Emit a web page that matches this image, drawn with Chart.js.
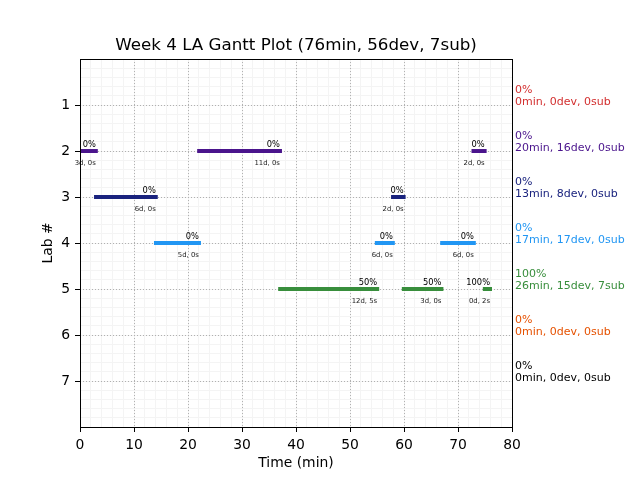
<!DOCTYPE html>
<html>
<head>
<meta charset="utf-8">
<script src="https://cdn.jsdelivr.net/npm/chart.js@4/dist/chart.umd.min.js"></script>
<style>
  html, body { margin: 0; padding: 0; background: #fff; }
</style>
</head>
<body>
<canvas id="gantt" width="640" height="480"></canvas>
<script>
(() => {
  'use strict';

  const TITLE = 'Week 4 LA Gantt Plot (76min, 56dev, 7sub)';
  const FONT = "'DejaVu Sans', sans-serif";

  // one entry per lab (1..7)
  const labNumbers = [1, 2, 3, 4, 5, 6, 7];
  const labColors = ['#d32f2f', '#4a148c', '#1a237e', '#2196f3', '#388e3c', '#e65100', '#000000'];
  const summaryPct = ['0%', '0%', '0%', '0%', '100%', '0%', '0%'];
  const summaryText = [
    '0min, 0dev, 0sub',
    '20min, 16dev, 0sub',
    '13min, 8dev, 0sub',
    '17min, 17dev, 0sub',
    '26min, 15dev, 7sub',
    '0min, 0dev, 0sub',
    '0min, 0dev, 0sub'
  ];

  // one entry per work segment
  const segLab   = [2, 2, 2, 3, 3, 4, 4, 4, 5, 5, 5];
  const segStart = [0, 21.7, 72.5, 2.6, 57.6, 13.7, 54.6, 66.7, 36.7, 59.6, 74.6];
  const segEnd   = [3.3, 37.4, 75.3, 14.4, 60.3, 22.4, 58.3, 73.3, 55.4, 67.3, 76.3];
  const segPct   = ['0%', '0%', '0%', '0%', '0%', '0%', '0%', '0%', '50%', '50%', '100%'];
  const segDur   = ['3d, 0s', '11d, 0s', '2d, 0s', '6d, 0s', '2d, 0s', '5d, 0s',
                    '6d, 0s', '6d, 0s', '12d, 5s', '3d, 0s', '0d, 2s'];

  const datasets = segLab.map((lab, i) => ({
    data: [{ x: segStart[i], y: lab }, { x: segEnd[i], y: lab }],
    borderColor: labColors[lab - 1],
    backgroundColor: labColors[lab - 1],
    borderWidth: 4,
    borderCapStyle: 'butt',
    pointRadius: 0,
    showLine: true,
    fill: false
  }));

  // labels on the bars, summary on the right, black frame
  const annotate = {
    id: 'annotate',
    afterDraw(chart) {
      const { ctx, chartArea } = chart;
      const x = chart.scales.x, y = chart.scales.y;
      ctx.save();
      ctx.textBaseline = 'alphabetic';
      ctx.textAlign = 'right';
      segLab.forEach((lab, i) => {
        const px = x.getPixelForValue(segEnd[i]) - 2;
        const py = y.getPixelForValue(lab);
        ctx.fillStyle = '#000';
        ctx.font = `8.3px ${FONT}`;
        ctx.fillText(segPct[i], px, py - 4);
        ctx.fillStyle = '#222';
        ctx.font = `6.9px ${FONT}`;
        ctx.fillText(segDur[i], px, py + 14);
      });

      ctx.textAlign = 'left';
      ctx.font = `11px ${FONT}`;
      labNumbers.forEach((lab, i) => {
        const py = y.getPixelForValue(lab);
        ctx.fillStyle = labColors[i];
        ctx.fillText(summaryPct[i], chartArea.right + 3, py - 12);
        ctx.fillText(summaryText[i], chartArea.right + 3, py - 0.5);
      });

      const l = Math.round(chartArea.left), t = Math.round(chartArea.top);
      const r = Math.round(chartArea.right), b = Math.round(chartArea.bottom);
      ctx.strokeStyle = '#000';
      ctx.lineWidth = 1;
      ctx.strokeRect(l + 0.5, t + 0.5, r - l, b - t);
      ctx.restore();
    }
  };

  const tickFont = { family: FONT, size: 13.9 };

  new Chart(document.getElementById('gantt'), {
    type: 'scatter',
    data: { datasets },
    plugins: [annotate],
    options: {
      responsive: false,
      animation: false,
      layout: { padding: { left: 0, right: 128, top: 0, bottom: 0 } },
      plugins: {
        legend: { display: false },
        tooltip: { enabled: false },
        title: {
          display: true,
          text: TITLE,
          fullSize: false,
          color: '#000',
          font: { family: FONT, size: 16.7, weight: 'normal' },
          padding: { top: 36, bottom: 3 }
        }
      },
      scales: {
        x: {
          type: 'linear',
          position: 'bottom',
          min: 0,
          max: 80,
          ticks: { stepSize: 10, color: '#000', font: tickFont, padding: 5, maxRotation: 0 },
          grid: { color: '#b0b0b0', lineWidth: 1, tickColor: '#000', tickLength: 5, tickBorderDash: [] },
          border: { display: false, dash: [1, 2] },
          title: { display: true, text: 'Time (min)', color: '#000', font: tickFont, padding: { top: 0, bottom: 8.6 } },
          afterFit: s => { s.height = 53; }
        },
        xm: {
          type: 'linear',
          axis: 'x',
          position: 'bottom',
          min: 0,
          max: 80,
          ticks: { stepSize: 2, display: false },
          grid: { color: '#f4f4f4', lineWidth: 1, drawTicks: false, z: -2 },
          border: { display: false },
          afterFit: s => { s.height = 0; }
        },
        y: {
          type: 'linear',
          position: 'left',
          reverse: true,
          min: 0,
          max: 8,
          ticks: { stepSize: 1, color: '#000', font: tickFont, padding: 5 },
          afterBuildTicks: s => { s.ticks = s.ticks.filter(t => t.value >= 1 && t.value <= 7); },
          grid: { color: '#b0b0b0', lineWidth: 1, tickColor: '#000', tickLength: 5, tickBorderDash: [] },
          border: { display: false, dash: [1, 2] },
          title: { display: true, text: 'Lab #', color: '#000', font: tickFont, padding: { top: 39.6, bottom: 0 } },
          afterFit: s => { s.width = 80; }
        },
        ym: {
          type: 'linear',
          axis: 'y',
          position: 'left',
          reverse: true,
          min: 0,
          max: 8,
          ticks: { stepSize: 0.2, display: false },
          grid: { color: '#f4f4f4', lineWidth: 1, drawTicks: false, z: -2 },
          border: { display: false },
          afterFit: s => { s.width = 0; }
        }
      }
    }
  });
})();
</script>
</body>
</html>
